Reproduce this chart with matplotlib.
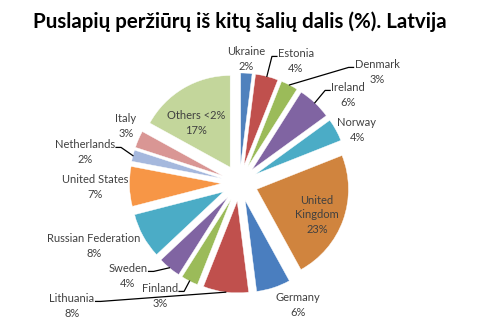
import matplotlib
matplotlib.use("Agg")
import numpy as np
import matplotlib.pyplot as plt

# Share of page views from other countries (%), clockwise from 12 o'clock
countries = ["Ukraine", "Estonia", "Denmark", "Ireland", "Norway", "United\nKingdom",
             "Germany", "Lithuania", "Finland", "Sweden", "Russian Federation",
             "United States", "Netherlands", "Italy", "Others <2%"]
shares = [2, 4, 3, 6, 4, 23, 6, 8, 3, 4, 8, 7, 2, 3, 17]

colors = ["#4F81BD", "#C0504D", "#9BBB59", "#8064A2", "#4BACC6", "#D0843E",
          "#4A7EBF", "#C0504D", "#9BBB59", "#8064A2", "#4BACC6", "#F79646",
          "#A5B8DD", "#D99694", "#C3D69B"]

# label anchor points (pixels, y down) and which ones get a leader line
label_xy = [(246, 59), (296, 61), (377, 72), (348, 95), (357, 130), (317, 215),
            (298, 305), (72, 306), (160, 296), (128, 276), (94, 246),
            (95, 187), (85, 152), (126, 126), (196, 123)]
leader = [False, True, True, True, False, False, False, True, True, True,
          False, False, True, False, False]

W, H = 480, 330
fig = plt.figure(figsize=(4.8, 3.3), dpi=100)
ax = fig.add_axes([0, 0, 1, 1])

fam = ["Lato", "DejaVu Sans"]
R = 91.7
# explode is an absolute offset in data units, so scale by the radius
wedges, _ = ax.pie(shares, colors=colors, startangle=90, counterclock=False,
                   explode=[0.2 * R] * len(shares), radius=R, center=(239.5, H - 183),
                   wedgeprops=dict(edgecolor="white", linewidth=0.3), frame=True)
ax.set_xlim(0, W); ax.set_ylim(0, H); ax.set_aspect("equal"); ax.axis("off")

fig.canvas.draw()
rend = fig.canvas.get_renderer()
for w, name, v, (lx, ly), ld in zip(wedges, countries, shares, label_xy, leader):
    ly = H - ly
    txt = ax.text(lx, ly, f"{name}\n{v}%", ha="center", va="center", fontsize=8,
                  color="#404040", family=fam, linespacing=1.35)
    if ld:
        mid = np.deg2rad((w.theta1 + w.theta2) / 2)
        cx, cy = w.center
        px, py = cx + w.r * np.cos(mid), cy + w.r * np.sin(mid)
        bb = txt.get_window_extent(renderer=rend).transformed(ax.transData.inverted())
        ty = bb.y1 - 8
        if px > lx:
            sx, hx = bb.x1 + 1, bb.x1 + 6
        else:
            sx, hx = bb.x0 - 1, bb.x0 - 6
        ax.plot([sx, hx, px], [ty, ty, py], color="black", lw=0.9)

fig.text(0.5, 0.935, "Puslapių peržiūrų iš kitų šalių dalis (%). Latvija",
         ha="center", va="center", fontsize=14.8, fontweight="bold", family=fam)

fig.savefig("out.png", dpi=100)
